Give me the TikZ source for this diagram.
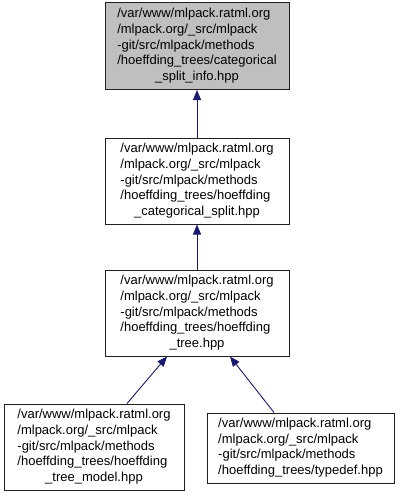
\documentclass[tikz,border=0pt]{standalone}
\usepackage{fontspec}
\setmainfont{Liberation Sans}
\usetikzlibrary{arrows.meta}
\definecolor{edgeblue}{HTML}{191970}
\definecolor{boxgray}{HTML}{BFBFBF}
\definecolor{boxline}{HTML}{202020}
\tikzset{
  filebox/.style={draw=boxline, line width=1pt, fill=white, minimum width=#1, inner sep=0pt, font=\fontsize{13}{15.6}\selectfont},
  filebox/.default=184pt,
  conn/.style={draw=edgeblue, line width=0.9pt, -{Triangle[length=10pt,width=8pt]}},
}
\newcommand{\lbl}[2]{\begin{tabular}{@{}l@{}}#1\\\multicolumn{1}{@{}c@{}}{#2}\end{tabular}}
\begin{document}
\begin{tikzpicture}[x=1pt,y=1pt]
\useasboundingbox (0,0) rectangle (400,-496);
\node[filebox, fill=boxgray, minimum height=87pt] (top) at (197,-46)
  {\lbl{/var/www/mlpack.ratml.org\\/mlpack.org/\_src/mlpack\\-git/src/mlpack/methods\\/hoeffding\_trees/categorical}{\_split\_info.hpp}};
\node[filebox, minimum height=86pt] (mid) at (197,-181)
  {\lbl{/var/www/mlpack.ratml.org\\/mlpack.org/\_src/mlpack\\-git/src/mlpack/methods\\/hoeffding\_trees/hoeffding}{\_categorical\_split.hpp}};
\node[filebox, minimum height=86pt] (tree) at (197,-313)
  {\lbl{/var/www/mlpack.ratml.org\\/mlpack.org/\_src/mlpack\\-git/src/mlpack/methods\\/hoeffding\_trees/hoeffding}{\_tree.hpp}};
\node[filebox=180pt, minimum height=86pt] (model) at (94,-447)
  {\lbl{/var/www/mlpack.ratml.org\\/mlpack.org/\_src/mlpack\\-git/src/mlpack/methods\\/hoeffding\_trees/hoeffding}{\_tree\_model.hpp}};
\node[filebox=187pt, minimum height=70pt] (typedef) at (300.5,-448)
  {\begin{tabular}{@{}l@{}}/var/www/mlpack.ratml.org\\/mlpack.org/\_src/mlpack\\-git/src/mlpack/methods\\/hoeffding\_trees/typedef.hpp\end{tabular}};
\draw[conn] (mid.north) -- (top.south);
\draw[conn] (tree.north) -- (mid.south);
\draw[conn] ([xshift=33pt]model.north) -- ([xshift=-30pt]tree.south);
\draw[conn] ([xshift=-26.5pt]typedef.north) -- ([xshift=33pt]tree.south);
\end{tikzpicture}
\end{document}
